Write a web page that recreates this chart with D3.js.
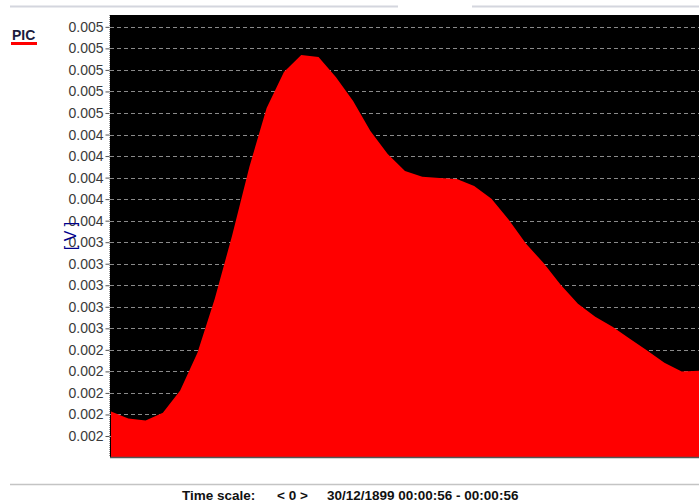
<!DOCTYPE html>
<html>
<head>
<meta charset="utf-8">
<script src="https://cdn.jsdelivr.net/npm/d3@7"></script>
<style>
  html, body { margin: 0; padding: 0; background: #fff; }
  svg { display: block; font-family: "Liberation Sans", Arial, sans-serif; }
</style>
</head>
<body>
<svg id="chart" width="699" height="503"></svg>
<script>
// Signal "PIC" sampled at a fixed interval (sample index -> volts)
const seriesName = "PIC";
const sampleIndex = d3.range(35);
const picValues = [
  0.001827, 0.001762, 0.001743, 0.001817, 0.002022, 0.002374, 0.002875,
  0.003459, 0.004099, 0.004647, 0.004981, 0.005138, 0.005120, 0.004934,
  0.004712, 0.004433, 0.004220, 0.004062, 0.004007, 0.003997, 0.003988,
  0.003923, 0.003803, 0.003608, 0.003385, 0.003209, 0.003005, 0.002829,
  0.002708, 0.002615, 0.002504, 0.002393, 0.002281, 0.002198, 0.002207
];
const yTickValues = [
  0.0016, 0.0018, 0.0020, 0.0022, 0.0024, 0.0026, 0.0028, 0.0030, 0.0032, 0.0034,
  0.0036, 0.0038, 0.0040, 0.0042, 0.0044, 0.0046, 0.0048, 0.0050, 0.0052, 0.0054
];
const yDomain = [0.001405, 0.00551];
const unitLabel = "[ V ]";
const timeScaleLabel = "Time scale:";
const zoomLabel = "< 0 >";
const timeRangeLabel = "30/12/1899 00:00:56 - 00:00:56";

const svg = d3.select("#chart");
const plot = { left: 110, right: 699, top: 15, bottom: 457 };

const x = d3.scaleLinear()
  .domain([0, sampleIndex.length - 1])
  .range([plot.left + 1, plot.right]);
const y = d3.scaleLinear()
  .domain(yDomain)
  .range([plot.bottom, plot.top]);

// Header separator lines
svg.append("line").attr("x1", 10).attr("x2", 398).attr("y1", 6.5).attr("y2", 6.5)
  .attr("stroke", "#d4d6de").attr("stroke-width", 2);
svg.append("line").attr("x1", 472).attr("x2", 699).attr("y1", 6.5).attr("y2", 6.5)
  .attr("stroke", "#d4d6de").attr("stroke-width", 2);

// Plot background
svg.append("rect")
  .attr("x", plot.left).attr("y", plot.top)
  .attr("width", plot.right - plot.left).attr("height", plot.bottom - plot.top)
  .attr("fill", "#000");

// Dashed horizontal grid
svg.append("g").selectAll("line").data(yTickValues).join("line")
  .attr("x1", plot.left).attr("x2", plot.right)
  .attr("y1", d => Math.round(y(d)) + 0.5).attr("y2", d => Math.round(y(d)) + 0.5)
  .attr("stroke", "#8a8a8a").attr("stroke-width", 1)
  .attr("stroke-dasharray", "4,3");

// Filled signal area (straight segments between samples)
const data = sampleIndex.map((i) => ({ i, v: picValues[i] }));
const area = d3.area()
  .x(d => x(d.i))
  .y0(plot.bottom)
  .y1(d => y(d.v))
  .curve(d3.curveLinear);
svg.append("path").datum(data)
  .attr("d", area)
  .attr("fill", "#ff0000");

// Y axis with short ticks and 3-decimal labels
const yAxis = d3.axisLeft(y)
  .tickValues(yTickValues)
  .tickFormat(d3.format(".3f"))
  .tickSize(4)
  .tickPadding(2);
const gy = svg.append("g")
  .attr("transform", `translate(${plot.left - 0.5},0)`)
  .call(yAxis);
gy.select(".domain").remove();
gy.selectAll(".tick line").attr("stroke", "#555");
gy.selectAll(".tick text")
  .attr("fill", "#3a3a3a")
  .style("font-size", "14px")
  .style("font-family", "'Liberation Sans', Arial, sans-serif");

// Left border (dotted) and bottom border of the plot
svg.append("line")
  .attr("x1", plot.left - 0.5).attr("x2", plot.left - 0.5)
  .attr("y1", plot.top).attr("y2", plot.bottom)
  .attr("stroke", "#9a9a9a").attr("stroke-dasharray", "1,1");
svg.append("line")
  .attr("x1", plot.left).attr("x2", plot.right)
  .attr("y1", plot.bottom + 0.5).attr("y2", plot.bottom + 0.5)
  .attr("stroke", "#555").attr("stroke-width", 1.5);

// Unit label
svg.append("text")
  .attr("transform", "translate(76,236) rotate(-90)")
  .attr("text-anchor", "middle")
  .attr("fill", "#00008b")
  .style("font-size", "16px")
  .text(unitLabel);

// Legend
svg.append("text")
  .attr("x", 12).attr("y", 40)
  .attr("fill", "#1c1c3c")
  .style("font-size", "14px")
  .style("font-weight", "bold")
  .text(seriesName);
svg.append("rect")
  .attr("x", 11).attr("y", 42).attr("width", 26).attr("height", 3)
  .attr("fill", "#ff0000");

// Footer separator and time scale caption
svg.append("line").attr("x1", 10).attr("x2", 699).attr("y1", 484.5).attr("y2", 484.5)
  .attr("stroke", "#c4c4c4").attr("stroke-width", 1.5);
const footer = svg.append("g")
  .style("font-size", "13.5px").style("font-weight", "bold").attr("fill", "#111");
footer.append("text").attr("x", 182).attr("y", 500).text(timeScaleLabel);
footer.append("text").attr("x", 277).attr("y", 500).text(zoomLabel);
footer.append("text").attr("x", 327).attr("y", 500).text(timeRangeLabel);
</script>
</body>
</html>
